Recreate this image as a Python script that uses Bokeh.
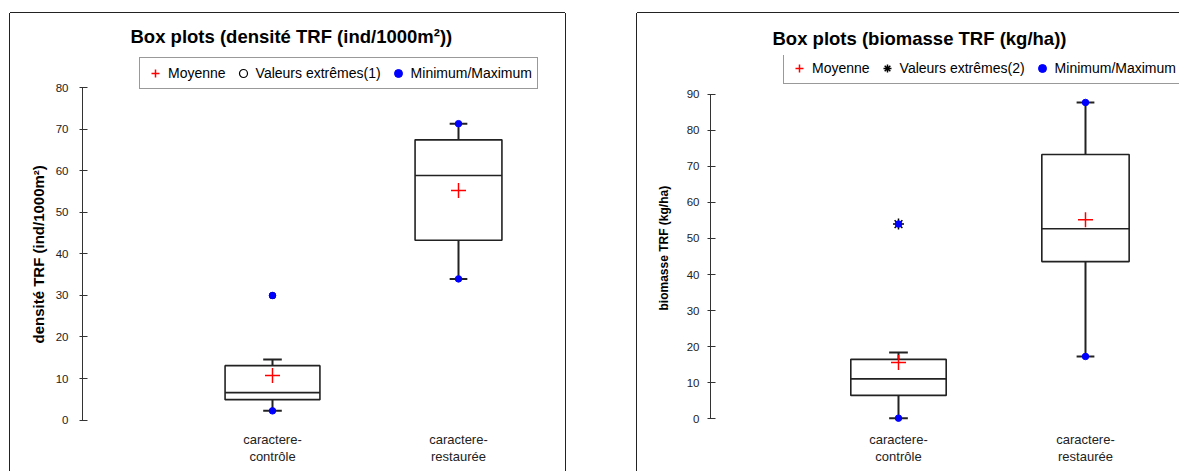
from bokeh.plotting import figure
from bokeh.layouts import row
from bokeh.models import FixedTicker, Range1d, Legend, LegendItem, Title
from bokeh.embed import file_html
from bokeh.resources import INLINE

# ---------------- data ----------------
categories = ["caractere-\ncontrôle", "caractere-\nrestaurée"]

# densité TRF (ind/1000m²)
dens_min = [2.2, 34.0]
dens_q1 = [4.9, 43.3]
dens_median = [6.6, 58.9]
dens_q3 = [13.1, 67.5]
dens_whisker_low = [2.2, 34.0]
dens_whisker_high = [14.6, 71.4]
dens_mean = [10.7, 55.3]
dens_max = [30.0, 71.4]
dens_outlier_cat = [0]
dens_outlier_val = [30.0]
dens_yticks = [0, 10, 20, 30, 40, 50, 60, 70, 80]

# biomasse TRF (kg/ha)
bio_min = [0.2, 17.3]
bio_q1 = [6.5, 43.6]
bio_median = [11.1, 52.7]
bio_q3 = [16.5, 73.3]
bio_whisker_low = [0.2, 17.3]
bio_whisker_high = [18.4, 87.7]
bio_mean = [15.6, 55.2]
bio_max = [54.0, 87.7]
bio_outlier_cat = [0]
bio_outlier_val = [54.0]
bio_yticks = [0, 10, 20, 30, 40, 50, 60, 70, 80, 90]

FONT = "Liberation Sans"
BOX_W = [0.51, 0.467]
CAP_W = [0.10, 0.095]
H = 458


def make_chart(title, ylabel, q1, med, q3, wlo, whi, mean, mn, mx,
               out_cat, out_val, out_marker, out_label, yticks,
               yr, xr, W, mb_left, mb_right, mb_top, mb_bottom,
               title_offset, title_standoff, leg_loc, tick_standoff,
               label_size, label_offset, label_standoff, margin, shadow):
    p = figure(width=W, height=H, x_range=Range1d(*xr), y_range=Range1d(*yr),
               output_backend="svg", toolbar_location=None,
               min_border_left=mb_left, min_border_right=mb_right,
               min_border_top=mb_top, min_border_bottom=mb_bottom,
               outline_line_color=None, background_fill_color="white",
               border_fill_color="white", margin=margin,
               styles={"box-shadow": shadow})
    p.title.text = title
    p.title.text_font = FONT
    p.title.text_font_size = "18.5px"
    p.title.text_font_style = "bold"
    p.title.text_color = "black"
    p.title.align = "left"
    p.title.offset = title_offset
    p.title.standoff = title_standoff
    p.xgrid.visible = False
    p.ygrid.visible = False

    xs = list(range(len(categories)))
    half = [w / 2 for w in BOX_W]
    chalf = [w / 2 for w in CAP_W]

    # whiskers
    p.segment(x0=xs, y0=q3, x1=xs, y1=whi, line_color="#222", line_width=2)
    p.segment(x0=xs, y0=q1, x1=xs, y1=wlo, line_color="#222", line_width=2)
    # boxes
    p.vbar(x=xs, width=BOX_W, bottom=q1, top=q3, fill_color="white",
           line_color="#222", line_width=1.6)
    # medians
    p.segment(x0=[x - h for x, h in zip(xs, half)], y0=med,
              x1=[x + h for x, h in zip(xs, half)], y1=med,
              line_color="#222", line_width=1.6)
    # caps
    for ends in (whi, wlo):
        p.segment(x0=[x - h for x, h in zip(xs, chalf)], y0=ends,
                  x1=[x + h for x, h in zip(xs, chalf)], y1=ends,
                  line_color="#222", line_width=2)
    # mean
    r_mean = p.scatter(x=xs, y=mean, marker="cross", size=15,
                       line_color="red", line_width=1.5)
    # outliers
    if out_marker == "circle":
        r_out = p.scatter(x=out_cat, y=out_val, marker="circle", size=6,
                          line_color="black", fill_color=None, line_width=1.2)
    else:
        r_out = p.scatter(x=out_cat, y=out_val, marker="asterisk", size=11,
                          line_color="black", line_width=1.5)
    # min / max
    mm_x = xs + xs
    mm_y = list(mn) + list(mx)
    r_mm = p.scatter(x=mm_x, y=mm_y, marker="circle", size=6.5,
                     fill_color="#0000ff", line_color="#0000ff")

    legend = Legend(items=[
        LegendItem(label="Moyenne", renderers=[r_mean]),
        LegendItem(label=out_label, renderers=[r_out]),
        LegendItem(label="Minimum/Maximum", renderers=[r_mm]),
    ], orientation="horizontal", location=leg_loc,
        label_text_font=FONT, label_text_font_size="14px",
        label_text_color="black",
        glyph_width=20, glyph_height=20, label_height=20,
        label_standoff=3, spacing=7, padding=5,
        border_line_color="#333", border_line_width=1,
        background_fill_color="white", background_fill_alpha=1.0)
    p.add_layout(legend)

    # x axis
    p.xaxis.ticker = FixedTicker(ticks=xs)
    p.xaxis.major_label_overrides = {x: c for x, c in zip(xs, categories)}
    p.xaxis.axis_line_color = None
    p.xaxis.major_tick_line_color = None
    p.xaxis.minor_tick_line_color = None
    p.xaxis.major_tick_out = 0
    p.xaxis.major_label_standoff = 8
    p.xaxis.major_label_text_font = FONT
    p.xaxis.major_label_text_font_size = "13px"
    p.xaxis.major_label_text_color = "#222"
    p.xaxis.major_label_text_line_height = 1.15

    # y axis
    p.yaxis.ticker = FixedTicker(ticks=yticks)
    p.yaxis.bounds = (yticks[0], yticks[-1])
    p.yaxis.axis_line_color = "#333"
    p.yaxis.major_tick_line_color = "#333"
    p.yaxis.minor_tick_line_color = None
    p.yaxis.major_tick_in = 5
    p.yaxis.major_tick_out = 3
    p.yaxis.major_label_standoff = tick_standoff
    p.yaxis.major_label_text_font = FONT
    p.yaxis.major_label_text_font_size = "11.5px"
    p.yaxis.major_label_text_color = "#222"

    # y-axis label (rotated text placed beside the axis)
    ylab = Title(text=ylabel, align="left", offset=label_offset,
                 vertical_align="bottom", standoff=label_standoff,
                 text_font=FONT, text_font_size=label_size,
                 text_font_style="bold", text_color="black")
    p.add_layout(ylab, "left")
    return p


p1 = make_chart("Box plots (densité TRF (ind/1000m²))", "densité TRF (ind/1000m²)",
                dens_q1, dens_median, dens_q3, dens_whisker_low, dens_whisker_high,
                dens_mean, dens_min, dens_max, dens_outlier_cat, dens_outlier_val,
                "circle", "Valeurs extrêmes(1)", dens_yticks,
                yr=(-0.843, 87.83), xr=(-1.0215, 1.5215), W=555,
                mb_left=72, mb_right=10, mb_top=42, mb_bottom=H - 410,
                title_offset=48, title_standoff=17, leg_loc=(57, 334),
                tick_standoff=11, label_size="15px", label_offset=80,
                label_standoff=11, margin=(13, 0, 0, 10),
                shadow="0 -1px 0 0 #222, -1px 0 0 0 #222, 1px 0 0 0 #222")

p2 = make_chart("Box plots (biomasse TRF (kg/ha))", "biomasse TRF (kg/ha)",
                bio_q1, bio_median, bio_q3, bio_whisker_low, bio_whisker_high,
                bio_mean, bio_min, bio_max, bio_outlier_cat, bio_outlier_val,
                "asterisk", "Valeurs extrêmes(2)", bio_yticks,
                yr=(-1.282, 100.72), xr=(-1.0053, 1.5027), W=542,
                mb_left=73, mb_right=0, mb_top=36, mb_bottom=H - 410,
                title_offset=62, title_standoff=13, leg_loc=(73, 339),
                tick_standoff=8, label_size="12px", label_offset=113,
                label_standoff=26, margin=(13, 0, 0, 72),
                shadow="0 -1px 0 0 #222, -1px 0 0 0 #222")

layout = row(p1, p2)
open("out.html", "w").write(file_html(layout, INLINE))
